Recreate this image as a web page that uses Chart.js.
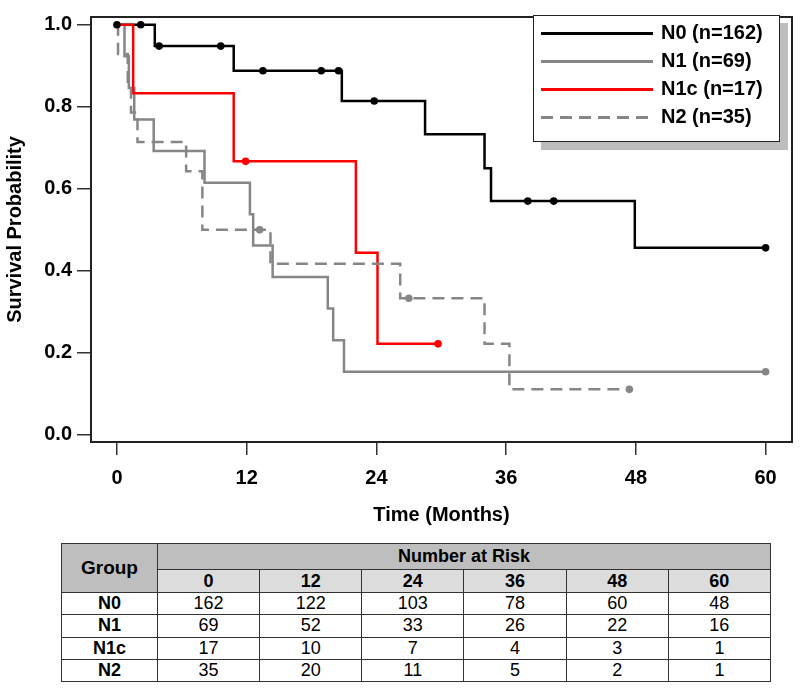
<!DOCTYPE html>
<html>
<head>
<meta charset="utf-8">
<script src="https://cdn.jsdelivr.net/npm/chart.js@4.4.0/dist/chart.umd.min.js"></script>
<style>
  body { margin: 0; background: #fff; font-family: 'Liberation Sans', Arial, sans-serif; }
  #wrap { position: relative; width: 800px; height: 689px; }
  #km { position: absolute; left: 0; top: 0; }
  #legend {
    position: absolute; left: 533px; top: 15px; width: 245px; height: 125px;
    border: 1.5px solid #222; background: #fff; box-shadow: 8px 8px 0 #bdbdbd;
  }
  .row { position: absolute; left: 0; height: 28px; width: 100%; }
  .swatch { position: absolute; left: 7px; top: 13px; width: 112px; height: 2.5px; }
  .lab { position: absolute; left: 127px; top: 2px; font: bold 20px 'Liberation Sans', Arial, sans-serif; color: #000; }
  #risk {
    position: absolute; left: 61px; top: 543px; width: 710px;
    border-collapse: collapse; font-family: 'Liberation Sans', Arial, sans-serif;
  }
  #risk td, #risk th { border: 1px solid #333; text-align: center; padding: 0; }
  #risk th { font-weight: bold; font-size: 18px; }
  #risk td { font-size: 18px; }
  #risk .dark { background: #bebebe; }
  #risk .light { background: #dcdcdc; }
</style>
</head>
<body>
<div id="wrap">
  <canvas id="km" width="800" height="540"></canvas>
  <div id="legend"></div>
  <table id="risk"></table>
</div>
<script>
// groups and their legend text
var groups = ['N0', 'N1', 'N1c', 'N2'];
var groupLabels = ['N0 (n=162)', 'N1 (n=69)', 'N1c (n=17)', 'N2 (n=35)'];
var groupColors = ['#000000', '#868686', '#ff0000', '#868686'];
var groupDash = [[], [], [], [12, 7]];

// Kaplan-Meier steps (time in months, survival)
var n0Times = [0, 3.5, 10.8, 20.8, 28.5, 34.0, 34.6, 47.9, 60];
var n0Surv = [1, 0.948, 0.888, 0.814, 0.733, 0.650, 0.570, 0.456, 0.456];
var n0Censor = [0, 2.2, 3.9, 9.6, 13.5, 18.9, 20.5, 23.8, 38.0, 40.4, 60];

var n1Times = [0, 0.7, 1.1, 1.6, 3.4, 8.1, 12.3, 12.6, 14.4, 19.5, 20.0, 21.0, 60];
var n1Surv = [1, 0.923, 0.846, 0.769, 0.692, 0.615, 0.538, 0.462, 0.385, 0.308, 0.231, 0.154, 0.154];
var n1Censor = [60];

var n1cTimes = [0, 1.5, 10.8, 22.1, 24.1, 29.7];
var n1cSurv = [1, 0.833, 0.667, 0.444, 0.222, 0.222];
var n1cCensor = [11.9, 29.7];

var n2Times = [0, 0.1, 1.0, 1.3, 1.9, 6.4, 7.9, 14.2, 26.2, 34.0, 36.3, 47.4];
var n2Surv = [1, 0.929, 0.857, 0.786, 0.714, 0.643, 0.5, 0.417, 0.333, 0.222, 0.111, 0.111];
var n2Censor = [13.2, 27.0, 47.4];

// axis ticks
var xTicks = [0, 12, 24, 36, 48, 60];
var yTicks = [0, 0.2, 0.4, 0.6, 0.8, 1.0];

// number at risk table
var riskTimes = ['0', '12', '24', '36', '48', '60'];
var riskN0 = [162, 122, 103, 78, 60, 48];
var riskN1 = [69, 52, 33, 26, 22, 16];
var riskN1c = [17, 10, 7, 4, 3, 1];
var riskN2 = [35, 20, 11, 5, 2, 1];

var allTimes = [n0Times, n1Times, n1cTimes, n2Times];
var allSurv = [n0Surv, n1Surv, n1cSurv, n2Surv];
var allCensor = [n0Censor, n1Censor, n1cCensor, n2Censor];
var allRisk = [riskN0, riskN1, riskN1c, riskN2];

// value of the step curve at time t
function survAt(times, surv, t) {
  var v = surv[0];
  for (var i = 0; i < times.length; i++) {
    if (times[i] <= t) v = surv[i];
  }
  return v;
}

var datasets = [];
var drawOrder = [3, 2, 1, 0]; // lower number drawn on top
for (var g = 0; g < groups.length; g++) {
  datasets.push({
    type: 'line',
    label: groups[g],
    data: allTimes[g].map(function (t, i) { return { x: t, y: allSurv[g][i] }; }),
    stepped: 'before',
    borderColor: groupColors[g],
    borderWidth: 2.5,
    borderDash: groupDash[g],
    pointRadius: 0,
    fill: false,
    order: drawOrder[g] + 4
  });
}
for (var g = 0; g < groups.length; g++) {
  datasets.push({
    type: 'line',
    label: groups[g] + ' censored',
    data: allCensor[g].map(function (t) { return { x: t, y: survAt(allTimes[g], allSurv[g], t) }; }),
    showLine: false,
    pointRadius: 3.8,
    pointBorderWidth: 0,
    pointBackgroundColor: groupColors[g],
    order: drawOrder[g]
  });
}

// box round the plot area
var boxPlugin = {
  id: 'box',
  afterDraw: function (chart) {
    var a = chart.chartArea;
    var ctx = chart.ctx;
    ctx.save();
    ctx.strokeStyle = '#222';
    ctx.lineWidth = 2;
    ctx.strokeRect(a.left, a.top, a.right - a.left, a.bottom - a.top);
    ctx.restore();
  }
};

var fontFam = "'Liberation Sans', Arial, sans-serif";

new Chart(document.getElementById('km'), {
  data: { datasets: datasets },
  plugins: [boxPlugin],
  options: {
    responsive: false,
    animation: false,
    layout: { padding: { left: 0, top: 7, right: 8, bottom: 0 } },
    plugins: { legend: { display: false }, tooltip: { enabled: false } },
    scales: {
      x: {
        type: 'linear',
        min: -2.4,
        max: 62.44,
        afterBuildTicks: function (s) { s.ticks = xTicks.map(function (v) { return { value: v }; }); },
        afterFit: function (s) { s.height = 98; },
        grid: { drawOnChartArea: false, drawTicks: true, tickLength: 13, color: '#333', lineWidth: 1.5 },
        border: { display: false },
        ticks: { color: '#000', font: { family: fontFam, size: 20, weight: 'bold' }, padding: 11, maxRotation: 0 },
        title: { display: true, text: 'Time (Months)', color: '#000', font: { family: fontFam, size: 20, weight: 'bold' }, padding: { top: 0, bottom: 13 } }
      },
      y: {
        type: 'linear',
        min: -0.0174,
        max: 1.019,
        afterBuildTicks: function (s) { s.ticks = yTicks.map(function (v) { return { value: v }; }); },
        afterFit: function (s) { s.width = 91; },
        grid: { drawOnChartArea: false, drawTicks: true, tickLength: 14, color: '#333', lineWidth: 1.5 },
        border: { display: false },
        ticks: {
          color: '#000', font: { family: fontFam, size: 20, weight: 'bold' }, padding: 5,
          callback: function (v) { return v.toFixed(1); }
        },
        title: { display: true, text: 'Survival Probability', color: '#000', font: { family: fontFam, size: 20, weight: 'bold' }, padding: { top: 3, bottom: 0 } }
      }
    }
  }
});

// legend inside the plot
var legend = document.getElementById('legend');
for (var g = 0; g < groups.length; g++) {
  var row = document.createElement('div');
  row.className = 'row';
  row.style.top = (3 + g * 28) + 'px';
  var sw = document.createElement('div');
  sw.className = 'swatch';
  if (groupDash[g].length) {
    sw.style.background = 'repeating-linear-gradient(to right, ' + groupColors[g] + ' 0 12px, transparent 12px 19px)';
  } else {
    sw.style.background = groupColors[g];
  }
  var lab = document.createElement('div');
  lab.className = 'lab';
  lab.textContent = groupLabels[g];
  row.appendChild(sw);
  row.appendChild(lab);
  legend.appendChild(row);
}

// number at risk table
var table = document.getElementById('risk');
var html = '<colgroup><col style="width:96px">';
for (var i = 0; i < riskTimes.length; i++) html += '<col style="width:102.3px">';
html += '</colgroup>';
html += '<tr style="height:26px"><th class="dark" rowspan="2" style="font-size:19px">Group</th>' +
  '<th class="dark" colspan="' + riskTimes.length + '">Number at Risk</th></tr>';
html += '<tr style="height:23px">';
for (var i = 0; i < riskTimes.length; i++) html += '<th class="light">' + riskTimes[i] + '</th>';
html += '</tr>';
for (var g = 0; g < groups.length; g++) {
  html += '<tr style="height:22.3px"><th>' + groups[g] + '</th>';
  for (var i = 0; i < allRisk[g].length; i++) html += '<td>' + allRisk[g][i] + '</td>';
  html += '</tr>';
}
table.innerHTML = html;
</script>
</body>
</html>
